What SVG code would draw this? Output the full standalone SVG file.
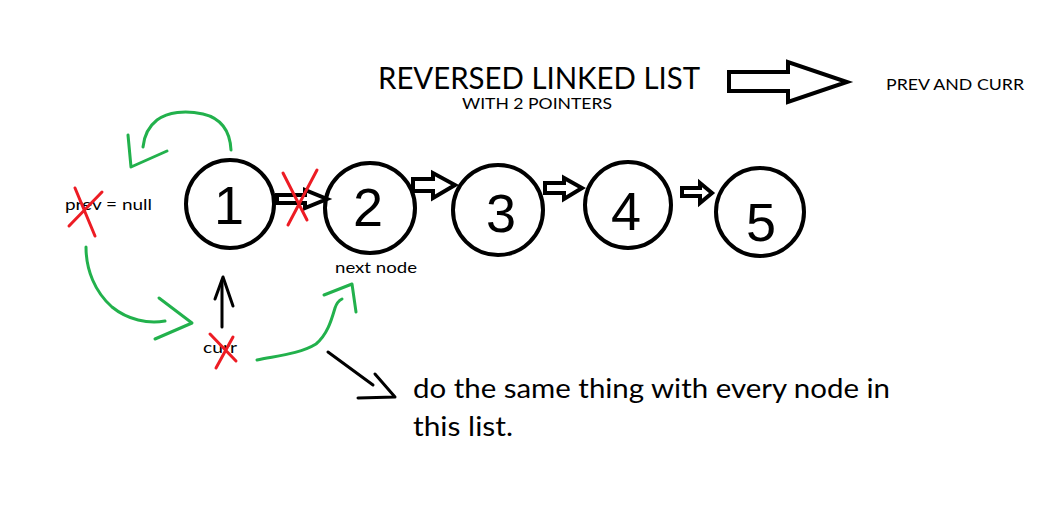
<svg xmlns="http://www.w3.org/2000/svg" width="1048" height="515" viewBox="0 0 1048 515">
<style>
.bg{fill:#fff}
.node{fill:#fff;stroke:#000;stroke-width:4}
.digit{font-family:"Liberation Sans",Arial,sans-serif;font-size:54px;fill:#000;text-anchor:middle}
.lbl{font-family:Lato,"Open Sans",sans-serif;fill:#000}
.block{fill:#fff;stroke:#000;stroke-width:4;stroke-linejoin:miter}
.green{fill:none;stroke:#22b14c;stroke-width:3;stroke-linecap:round;stroke-linejoin:round}
.blk{fill:none;stroke:#000;stroke-width:3;stroke-linecap:round;stroke-linejoin:round}
.red{fill:none;stroke:#ed1c24;stroke-width:3;stroke-linecap:round}
</style>
<rect class="bg" width="1048" height="515"/>
<g id="title">
<text class="lbl" x="378" y="89" font-size="30" textLength="322" lengthAdjust="spacingAndGlyphs">REVERSED LINKED LIST</text>
<text class="lbl" x="462" y="109" font-size="16" textLength="150" lengthAdjust="spacingAndGlyphs">WITH 2 POINTERS</text>
</g>
<g id="subtitle">
<text class="lbl" x="886" y="90" font-size="16" textLength="138" lengthAdjust="spacingAndGlyphs">PREV AND CURR</text>
</g>
<g id="node1"><circle class="node" cx="230" cy="204" r="44"/><text class="digit" x="229" y="224">1</text></g>
<g id="node2"><circle class="node" cx="370" cy="208" r="45"/><text class="digit" x="368" y="226">2</text></g>
<g id="node3"><circle class="node" cx="498" cy="210" r="45"/><text class="digit" x="501" y="232">3</text></g>
<g id="node4"><circle class="node" cx="628" cy="205" r="43"/><text class="digit" x="626" y="230">4</text></g>
<g id="node5"><circle class="node" cx="760" cy="212" r="44"/><text class="digit" x="761" y="241">5</text></g>
<g id="labels">
<text class="lbl" x="65" y="210" font-size="16" textLength="87" lengthAdjust="spacingAndGlyphs">prev = null</text>
<text class="lbl" x="203" y="353" font-size="16" textLength="34" lengthAdjust="spacingAndGlyphs">curr</text>
<text class="lbl" x="335" y="273" font-size="16" textLength="82" lengthAdjust="spacingAndGlyphs">next node</text>
<text class="lbl" x="413" y="398" font-size="26" textLength="477" lengthAdjust="spacingAndGlyphs">do the same thing with every node in</text>
<text class="lbl" x="413" y="436" font-size="26" textLength="100" lengthAdjust="spacingAndGlyphs">this list.</text>
</g>
<g id="connectors">
<polygon class="block" points="729,72 788,72 788,62 847,82 788,102 788,91 729,91"/>
<polygon class="block" points="277,195 305,195 305,190 327,199 305,208 305,203 277,203"/>
<polygon class="block" points="413,179 433,179 433,173 455,185 433,198 433,191 413,191"/>
<polygon class="block" points="545,183 564,183 564,178 582,188 564,199 564,193 545,193"/>
<polygon class="block" points="682,188 700,188 700,183 712,193 700,203 700,196 682,196"/>
<path class="green" d="M231,150 C230,130 220,118 203,114 C185,110 168,112 157,120 C148,127 144,137 143,147"/>
<path class="green" d="M128,135 L131,167 L167,151"/>
<path class="green" d="M86,247 C86,270 95,292 112,307 C128,320 148,324 165,321"/>
<path class="green" d="M159,298 L192,323 L155,339"/>
<path class="green" d="M257,360 C275,356 300,354 316,344 C328,334 332,318 335,308 C337,302 340,300 342,299"/>
<path class="green" d="M324,295 L352,284 L356,312"/>
<path class="blk" d="M222,327 L222,281"/>
<path class="blk" d="M215,299 L223,277 L233,306"/>
<path class="blk" d="M328,352 L373,385"/>
<path class="blk" d="M358,398 L395,397 L375,374"/>
</g>
<g id="crosses">
<path class="red" d="M69,226 L102,192 M75,188 L95,236"/>
<path class="red" d="M283,173 L307,220 M317,170 L288,225"/>
<path class="red" d="M210,334 L236,361 M233,337 L216,368"/>
</g>
</svg>
